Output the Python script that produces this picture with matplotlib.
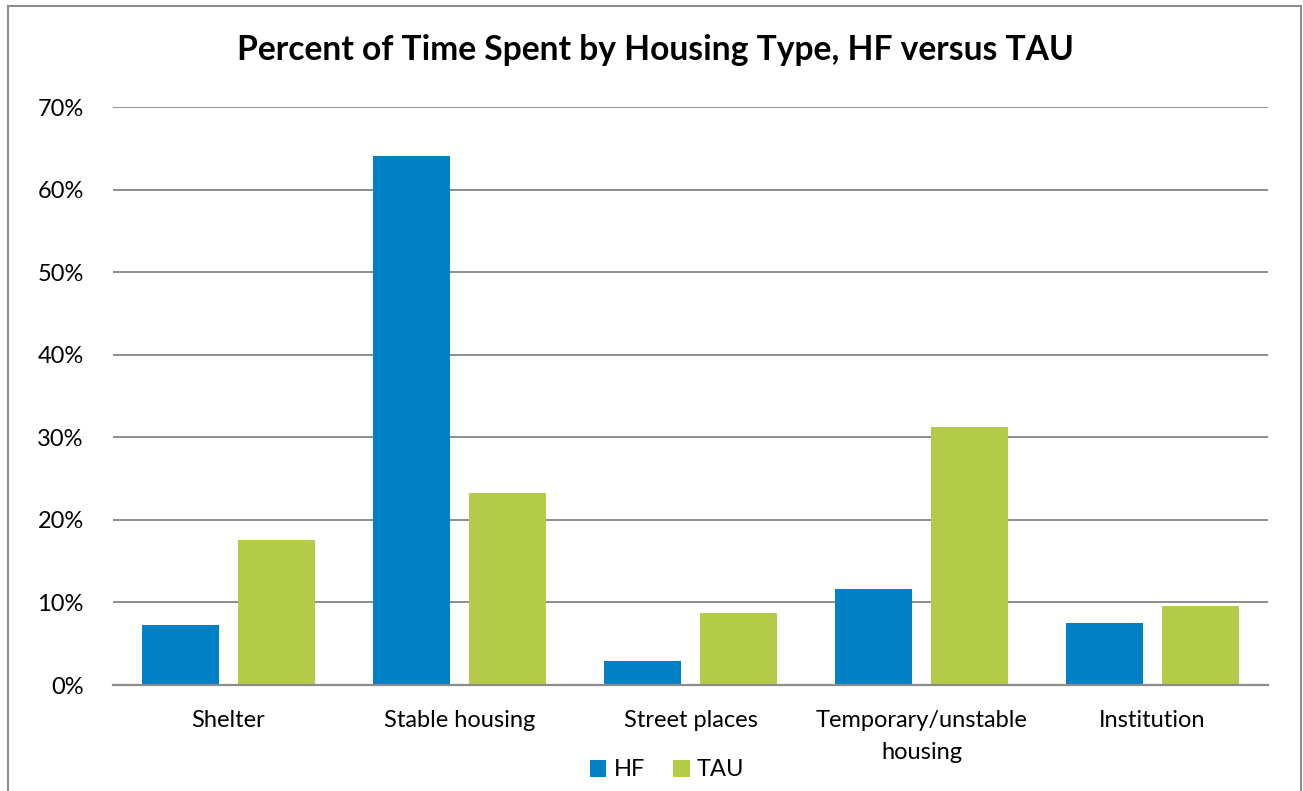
import matplotlib.pyplot as plt
import matplotlib.ticker as ticker
import numpy as np
from matplotlib.patches import Rectangle

categories = ["Shelter", "Stable housing", "Street places",
              "Temporary/unstable\nhousing", "Institution"]
hf_values = [7.3, 64.1, 2.9, 11.6, 7.5]
tau_values = [17.6, 23.2, 8.7, 31.2, 9.6]
y_ticks = [0, 10, 20, 30, 40, 50, 60, 70]

plt.rcParams["font.family"] = ["Lato", "DejaVu Sans"]

fig = plt.figure(figsize=(13.03, 7.91), dpi=100)
ax = fig.add_axes([113 / 1303, 1 - 685 / 791, 1155 / 1303, 578 / 791])

x = np.arange(len(categories))
width = 0.333
offset = 0.208
ax.bar(x - offset, hf_values, width, color="#0081C6", label="HF", zorder=3)
ax.bar(x + offset, tau_values, width, color="#B3CB48", label="TAU", zorder=3)

ax.set_xlim(-0.5, len(categories) - 0.5)
ax.set_ylim(0, 70)
ax.set_yticks(y_ticks)
ax.yaxis.set_major_formatter(ticker.FuncFormatter(lambda v, _: f"{int(v)}%"))
ax.set_xticks(x)
ax.set_xticklabels(categories, fontsize=17, linespacing=1.65, va="top")
ax.tick_params(axis="y", labelsize=17, length=0, pad=21)
ax.tick_params(axis="x", length=0, pad=18)

ax.grid(True, axis="y", color="#8c8c8c", linewidth=1.4, zorder=0)
for side in ["top", "right", "left"]:
    ax.spines[side].set_visible(False)
ax.spines["bottom"].set_color("#8c8c8c")
ax.spines["bottom"].set_linewidth(1.6)
ax.spines["bottom"].set_zorder(4)

fig.text(655 / 1303, 1 - 50 / 791,
         "Percent of Time Spent by Housing Type, HF versus TAU",
         ha="center", va="center", fontsize=24.2, fontweight="bold")

fig.legend(loc="center", bbox_to_anchor=(667 / 1303, 1 - 770 / 791), ncol=2,
           frameon=False, fontsize=17, handlelength=0.7, handleheight=0.7,
           handletextpad=0.3, columnspacing=1.2)

fig.patches.append(Rectangle((8 / 1303, -0.05), 1293 / 1303, 1.05 - 6 / 791,
                             transform=fig.transFigure, fill=False,
                             edgecolor="#8c8c8c", linewidth=1.5))

fig.savefig("out.png", dpi=100)
